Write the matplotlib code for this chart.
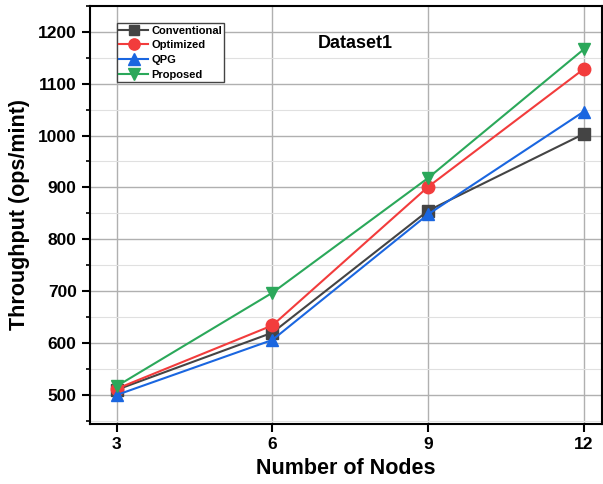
import matplotlib.pyplot as plt
from matplotlib.ticker import MultipleLocator

plt.rcParams['font.family'] = ['Liberation Sans', 'DejaVu Sans']
plt.rcParams['font.weight'] = 'bold'

nodes = [3, 6, 9, 12]
conventional = [510, 620, 855, 1003]
optimized = [512, 634, 901, 1128]
qpg = [500, 606, 848, 1046]
proposed = [517, 697, 918, 1166]

fig = plt.figure(figsize=(6.03, 4.84), dpi=100)
ax = fig.add_axes([0.149, 0.124, 0.849, 0.864])

ax.plot(nodes, conventional, marker='s', color='#444444', lw=1.5, ms=8, label='Conventional')
ax.plot(nodes, optimized, marker='o', color='#f23c3c', lw=1.5, ms=9, label='Optimized')
ax.plot(nodes, qpg, marker='^', color='#1a66e0', lw=1.5, ms=9, label='QPG')
ax.plot(nodes, proposed, marker='v', color='#2ba85a', lw=1.5, ms=9, label='Proposed')

ax.set_xlim(2.48, 12.35)
ax.set_ylim(444, 1250)
ax.set_xticks(nodes)
ax.yaxis.set_major_locator(MultipleLocator(100))
ax.yaxis.set_minor_locator(MultipleLocator(50))
ax.grid(True, which='major', color='#b0b0b0', lw=1)
ax.grid(True, which='minor', axis='y', color='#e0e0e0', lw=0.8)
ax.set_axisbelow(True)

for s in ax.spines.values():
    s.set_linewidth(1.5)
ax.tick_params(which='major', direction='out', length=6, width=1.5, labelsize=12.5)
ax.tick_params(which='minor', direction='out', length=3, width=1.2)

ax.set_xlabel('Number of Nodes', fontsize=15.5, fontweight='bold')
ax.set_ylabel('Throughput (ops/mint)', fontsize=15.5, fontweight='bold', labelpad=6)
ax.text(0.445, 0.909, 'Dataset1', transform=ax.transAxes, fontsize=13, fontweight='bold', va='center')

leg = ax.legend(loc='upper left', bbox_to_anchor=(0.053, 0.958), fontsize=8, fancybox=False,
                edgecolor='#444444', framealpha=1, borderpad=0.2, labelspacing=0.42,
                handlelength=2.6, handletextpad=0.3, markerscale=0.9, borderaxespad=0)
leg.get_frame().set_linewidth(1)

plt.savefig('out.png', dpi=100)
